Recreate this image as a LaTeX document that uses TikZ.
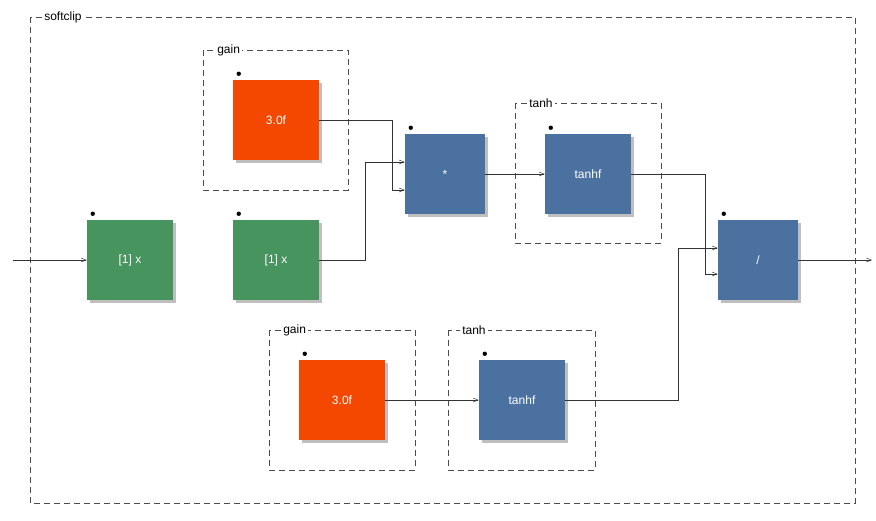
\documentclass[tikz,border=0pt]{standalone}
\usepackage{fontspec}
\setmainfont{Liberation Sans}
\usetikzlibrary{arrows.meta,shadows}
\definecolor{numgreen}{RGB}{71,148,94}
\definecolor{numorange}{RGB}{244,72,0}
\definecolor{opblue}{RGB}{75,113,161}

\tikzset{every picture/.style={line width=0.5pt}}
\tikzset{
  blk/.style={draw=none,minimum width=86pt,minimum height=80pt,text=white,font=\large,
    drop shadow={shadow xshift=3pt,shadow yshift=-3pt,fill=black!25,opacity=1}},
  op/.style={blk,fill=opblue,minimum width=80pt},
  num/.style={blk,fill=numorange},
  inp/.style={blk,fill=numgreen},
  grp/.style={draw=black!70,dash pattern=on 6pt off 4pt},
  grplabel/.style={fill=white,inner sep=2pt,anchor=west,font=\large},
  wire/.style={draw=black!80,-{Straight Barb[length=5pt,width=4pt]}}
}
\newcommand{\blkdot}[1]{\fill (#1.north west) ++(6pt,-6pt) circle (2.2pt);}

\begin{document}
\begin{tikzpicture}[x=1pt,y=1pt,yscale=-1,xscale=1]
\useasboundingbox (0,0) rectangle (876,520);

% groups
\draw [grp] (30,17) rectangle (855,503);
\node [grplabel] at (42,17) {softclip};
\draw [grp] (203,50) rectangle (348,190);
\node [grplabel] at (215,50) {gain};
\draw [grp] (515,103) rectangle (661,243);
\node [grplabel] at (527,103) {tanh};
\draw [grp] (269,330) rectangle (415,470);
\node [grplabel] at (281,330) {gain};
\draw [grp] (448,330) rectangle (595,470);
\node [grplabel] at (460,330) {tanh};

% blocks
\node [inp] (x1) at (130,260) {[1] x};
\node [inp] (x2) at (276,260) {[1] x};
\node [num] (gainA) at (276,120) {3.0f};
\node [op] (mul) at (445,174) {*};
\node [op,minimum width=86pt] (tanhA) at (588,174) {tanhf};
\node [num] (gainB) at (342,400) {3.0f};
\node [op,minimum width=86pt] (tanhB) at (522,400) {tanhf};
\node [op] (div) at (758,260) {/};
\foreach \b in {x1,x2,gainA,mul,tanhA,gainB,tanhB,div} {\blkdot{\b}}

\coordinate (in) at (13,260);
\coordinate (out) at (872,260);

% wires
\draw [wire] (in) -- (x1.west);
\draw [wire] (gainA.east) -- ++(73,0) |- ([yshift=16pt]mul.west);
\draw [wire] (x2.east) -- ++(46,0) |- ([yshift=-12pt]mul.west);
\draw [wire] (mul.east) -- (tanhA.west);
\draw [wire] (tanhA.east) -- ++(74,0) |- ([yshift=14pt]div.west);
\draw [wire] (gainB.east) -- (tanhB.west);
\draw [wire] (tanhB.east) -- ++(113,0) |- ([yshift=-12pt]div.west);
\draw [wire] (div.east) -- (out);

\end{tikzpicture}
\end{document}
